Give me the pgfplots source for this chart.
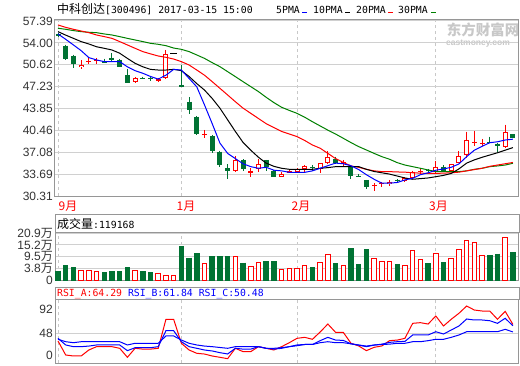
\documentclass[border=0pt]{standalone}
\usepackage{pgfplots}
\pgfplotsset{compat=1.18}
\usepackage{pgfplotstable}
\usepackage{fontspec}
\setmainfont{Liberation Sans}
\newfontfamily\cjk{Noto Sans CJK SC}
\newfontfamily\mono{DejaVu Sans Mono}

\definecolor{cg}{RGB}{0,114,51}
\definecolor{ma30}{RGB}{0,128,0}
\definecolor{gridc}{RGB}{208,208,208}
\definecolor{dashc}{RGB}{200,200,200}
\definecolor{framec}{RGB}{150,150,150}
\definecolor{labc}{RGB}{51,51,51}
\definecolor{wm}{RGB}{200,200,200}

% green (falling) candles: index, open, high, low, close
\pgfplotstableread{
i o h l c
0 55.30 55.50 54.90 55.00
1 53.57 53.73 51.36 51.51
2 52.03 52.18 50.17 50.79
6 51.12 51.56 50.94 50.96
7 51.72 52.39 51.25 51.36
8 51.36 51.51 50.32 50.32
9 49.00 49.96 47.75 47.75
11 48.56 48.78 48.37 48.40
12 48.50 48.78 48.16 48.34
16 47.50 50.60 47.10 47.13
17 44.91 45.58 43.00 43.62
18 42.59 42.69 39.75 39.91
20 39.60 39.75 36.92 37.33
21 37.17 37.33 34.75 35.11
22 34.60 35.21 32.94 34.23
24 35.89 35.99 34.23 34.44
27 35.89 35.89 34.23 34.75
28 34.18 34.34 33.30 33.30
33 34.80 35.11 34.23 34.62
36 35.99 36.40 35.27 35.47
38 34.85 34.85 32.94 33.46
39 33.36 33.72 33.20 33.20
40 32.79 32.79 31.40 31.76
44 32.86 32.92 32.27 32.70
48 34.32 34.50 34.00 34.16
50 34.85 35.06 34.23 34.23
56 38.72 39.50 38.55 38.56
57 38.36 38.46 37.18 38.10
59 39.90 39.90 39.24 39.24
}\candg

% red (rising) candles, hollow body
\pgfplotstableread{
i o h l c
3 50.22 51.30 49.96 50.58
10 48.00 48.67 47.85 48.52
14 48.62 52.90 48.47 52.23
23 34.23 36.50 34.00 35.89
26 34.44 35.99 34.08 35.21
29 33.20 34.08 33.20 33.70
31 34.03 34.60 33.90 34.44
32 34.54 35.11 33.82 34.96
34 34.54 35.37 33.93 35.37
35 35.37 37.28 35.27 36.30
43 32.17 32.79 31.92 32.53
45 32.70 33.20 32.50 33.10
46 33.05 34.23 32.89 34.08
49 34.08 35.78 33.82 34.85
51 34.23 35.27 34.08 35.27
52 35.47 37.28 35.47 36.50
53 36.66 40.27 36.14 38.98
58 37.90 41.36 37.75 40.17
}\candr

% red candles with a very small body
\pgfplotstableread{
i o h l c
4 50.98 51.61 50.69 51.14
5 51.18 51.67 50.79 51.34
13 48.10 48.57 47.90 48.40
19 39.70 40.53 39.24 39.86
25 33.93 34.60 33.20 34.23
30 33.90 34.40 33.80 34.20
37 35.38 35.89 34.75 35.55
41 31.80 32.27 31.14 31.96
42 32.10 32.50 31.76 32.26
47 34.00 34.44 33.72 34.16
54 38.55 40.37 38.10 38.71
55 38.30 39.13 38.08 38.46
}\candx

% flat candle
\pgfplotstableread{
i o h l c
15 52.32 52.47 52.32 52.47
}\candd

% moving averages
\pgfplotstableread{
i m5 m10 m20 m30
0 55.38 55.74 56.77 56.26
1 54.55 55.20 56.40 56.10
2 53.68 54.70 56.10 55.90
3 52.80 54.20 55.84 55.74
4 51.72 53.83 55.58 55.64
5 51.36 53.40 55.22 55.58
6 51.10 53.16 54.97 55.38
7 51.10 52.90 54.70 55.22
8 51.10 52.40 54.20 54.97
9 50.30 51.60 53.68 54.70
10 49.70 50.84 53.16 54.45
11 49.30 50.30 52.65 54.20
12 48.80 49.90 52.30 53.93
13 48.40 49.80 51.97 53.78
14 49.00 49.80 51.77 53.57
15 49.90 49.90 51.50 53.20
16 49.80 49.70 51.10 53.00
17 48.50 48.80 50.58 52.65
18 47.20 47.70 49.80 52.13
19 44.40 46.70 49.00 51.60
20 41.50 45.40 48.00 50.94
21 38.50 43.90 46.97 50.32
22 36.90 42.10 45.94 49.55
23 36.10 40.30 44.90 48.78
24 35.30 38.60 43.90 48.00
25 34.85 37.40 43.10 47.23
26 34.60 36.30 42.30 46.46
27 34.75 35.40 41.50 45.58
28 34.30 34.90 40.90 44.76
29 34.20 34.60 40.30 44.04
30 33.97 34.44 39.90 43.55
31 33.97 34.44 39.50 43.10
32 33.97 34.44 38.90 42.50
33 34.20 34.44 38.20 41.80
34 34.60 34.60 37.70 41.15
35 35.00 34.70 36.90 40.50
36 35.40 34.85 36.10 39.90
37 35.30 34.85 35.50 39.24
38 35.00 34.85 34.96 38.57
39 34.40 34.85 34.75 37.95
40 33.60 34.44 34.44 37.43
41 32.90 34.10 34.20 36.90
42 32.30 33.90 34.08 36.40
43 32.30 33.70 34.08 36.00
44 32.40 33.40 34.03 35.47
45 32.80 33.10 34.00 35.10
46 33.05 32.90 33.90 34.85
47 33.60 33.00 33.85 34.60
48 33.90 33.10 33.80 34.34
49 34.30 33.30 33.80 34.08
50 34.50 33.50 33.85 34.08
51 34.75 33.80 33.90 34.08
52 35.27 34.50 34.00 34.08
53 36.40 35.40 34.20 34.20
54 37.40 35.90 34.40 34.44
55 38.00 36.30 34.60 34.60
56 38.55 36.65 34.90 34.85
57 38.70 37.00 35.10 34.96
58 38.97 37.40 35.30 35.10
59 39.10 37.80 35.50 35.37
}\ma

% volume (10k shares)
\pgfplotstableread{
i v
0 2.9
1 5.6
2 4.65
6 2.25
7 2.7
8 2.7
9 4.65
11 2.7
12 2.25
16 14.8
17 9.1
18 11.3
20 9.9
21 9.9
22 9.9
24 6.7
27 7.5
28 7.5
33 4.65
36 6.55
38 13.7
39 6.1
40 13.25
44 6.1
48 6.55
50 7.0
56 10.4
57 11.0
59 11.92
}\volg

\pgfplotstableread{
i v
3 3.2
4 3.2
5 2.7
10 3.2
13 1.8
14 0.7
15 0.7
19 6.55
23 9.9
25 5.1
26 7.0
29 3.55
30 4.0
31 4.0
32 5.45
34 6.9
35 10.9
37 5.6
41 8.8
42 7.4
43 7.4
45 5.45
46 12.6
47 8.35
49 11.2
51 8.8
52 13.1
53 17.4
54 16.45
55 10.2
58 18.85
}\volr

% RSI
\pgfplotstableread{
i a b c
0 33.9 38.8 37.0
1 8.2 26.6 32.6
2 6.4 23.5 30.8
3 6.4 23.5 32.6
4 17.4 24.6 32.6
5 23.5 26.6 32.6
6 23.5 26.6 32.6
7 23.5 26.6 32.6
8 20.5 26.6 32.6
9 4.0 16.2 26.6
10 20.5 21.6 29.7
11 19.0 21.6 29.7
12 19.0 21.6 29.7
13 20.5 23.5 29.7
14 73.7 52.8 43.1
15 73.7 52.8 43.1
16 29.7 32.6 35.7
17 17.4 23.5 29.7
18 11.3 20.5 26.6
19 10.0 17.4 24.6
20 6.4 15.6 23.5
21 4.0 12.5 22.0
22 1.5 10.1 20.5
23 20.5 20.5 23.5
24 14.4 19.0 23.5
25 14.4 19.0 23.5
26 23.5 23.5 23.5
27 20.5 20.5 20.5
28 17.4 19.0 20.5
29 23.5 20.5 21.6
30 30.8 23.5 23.5
31 38.8 25.2 26.6
32 40.6 27.5 27.5
33 37.0 27.5 27.5
34 50.4 34.5 30.8
35 65.0 40.6 32.6
36 49.8 35.6 30.8
37 49.8 35.0 30.8
38 29.7 28.7 28.7
39 24.8 26.3 26.6
40 16.2 23.5 24.6
41 22.3 26.3 26.6
42 24.8 28.1 27.5
43 34.5 31.4 28.1
44 35.6 32.6 29.7
45 38.8 33.2 29.7
46 66.3 44.9 32.6
47 67.5 44.9 32.6
48 65.0 44.9 34.5
49 79.7 50.9 37.0
50 61.4 46.7 37.0
51 73.7 54.0 40.6
52 84.7 61.4 44.9
53 98.0 74.2 50.9
54 90.7 72.4 50.9
55 88.9 72.4 50.9
56 88.9 71.1 50.9
57 73.7 66.3 50.9
58 88.3 75.5 55.3
59 64.3 61.8 50.5
}\rsi

\pgfplotsset{
  panel/.style={scale only axis, width=464pt, anchor=south west,
    xmin=-0.39, xmax=59.79,
    axis line style={draw=framec, line width=1pt},
    xtick={0,16,31,49}, xticklabels={},
    xmajorgrids, ymajorgrids,
    major x grid style={draw=dashc, dashed, line width=1pt},
    major y grid style={draw=gridc, line width=1pt},
    tick style={draw=none}, major tick length=0pt,
    yticklabel style={font=\fontsize{12pt}{12pt}\selectfont, text=labc, inner sep=2pt},
  },
  eb/.style 2 args={draw=none, no markers, forget plot, error bars/.cd, y dir=minus, y explicit, error mark=none, error bar style={line width=#2, draw=#1, solid}},
  ebin/.style={draw=none, no markers, forget plot, error bars/.cd, y dir=minus, y explicit, error mark=none, error bar style={line width=#1, draw=white, solid, shorten <=1pt, shorten >=1pt}},
}

\begin{document}
\begin{tikzpicture}
\useasboundingbox (0pt,0pt) rectangle (520pt,365pt);
\fill[white] (0pt,0pt) rectangle (520pt,365pt);

% watermark
\node[text=wm, inner sep=0, font=\cjk\bfseries\fontsize{14.5pt}{14.5pt}\selectfont] at (483pt,335pt) {东方财富网};
\node[text=wm, inner sep=0, font=\bfseries\fontsize{8.5pt}{8.5pt}\selectfont] at (478pt,321.5pt) {eastmoney.com};

% title and legend
\node[anchor=base west, inner sep=0] at (57pt,351pt) {{\cjk\fontsize{12pt}{12pt}\selectfont 中科创达}{\mono\fontsize{9.8pt}{10pt}\selectfont[300496] 2017-03-15 15:00}};
\node[anchor=base west, inner sep=0, font=\mono\fontsize{9.8pt}{10pt}\selectfont] at (276pt,351pt) {5PMA};
\fill[blue] (301.7pt,351.7pt) rectangle (306.7pt,353.3pt);
\node[anchor=base west, inner sep=0, font=\mono\fontsize{9.8pt}{10pt}\selectfont] at (313pt,351pt) {10PMA};
\fill[black] (345pt,351.7pt) rectangle (350pt,353.3pt);
\node[anchor=base west, inner sep=0, font=\mono\fontsize{9.8pt}{10pt}\selectfont] at (356pt,351pt) {20PMA};
\fill[red] (388pt,351.7pt) rectangle (393pt,353.3pt);
\node[anchor=base west, inner sep=0, font=\mono\fontsize{9.8pt}{10pt}\selectfont] at (398pt,351pt) {30PMA};
\fill[ma30] (431pt,351.7pt) rectangle (436pt,353.3pt);

% price panel
\begin{axis}[panel, at={(55pt,169pt)}, height=176pt, ymin=30.31, ymax=57.54,
  ytick={30.31,33.69,37.08,40.46,43.85,47.23,50.62,54.00,57.39},
  yticklabels={30.31,33.69,37.08,40.46,43.85,47.23,50.62,54.00,57.39}]
\addplot[eb={cg}{1pt}] table[x=i,y=h,y error minus expr=\thisrow{h}-\thisrow{l}] {\candg};
\addplot[eb={cg}{5pt}] table[x=i,y=o,y error minus expr=\thisrow{o}-\thisrow{c}] {\candg};
\addplot[eb={red}{1pt}] table[x=i,y=h,y error minus expr=\thisrow{h}-\thisrow{l}] {\candr};
\addplot[eb={red}{5pt}] table[x=i,y=c,y error minus expr=\thisrow{c}-\thisrow{o}] {\candr};
\addplot[ebin=3pt] table[x=i,y=c,y error minus expr=\thisrow{c}-\thisrow{o}] {\candr};
\addplot[eb={red}{1pt}] table[x=i,y=h,y error minus expr=\thisrow{h}-\thisrow{l}] {\candx};
\addplot[eb={red}{5pt}] table[x=i,y=c,y error minus expr=\thisrow{c}-\thisrow{o}] {\candx};
\addplot[eb={black}{7pt}] table[x=i,y=c,y error minus expr=\thisrow{c}-\thisrow{o}] {\candd};
\addplot[ma30, line width=1pt, mark=none] table[x=i,y=m30] {\ma};
\addplot[red, line width=1pt, mark=none] table[x=i,y=m20] {\ma};
\addplot[black, line width=1pt, mark=none] table[x=i,y=m10] {\ma};
\addplot[blue, line width=1pt, mark=none] table[x=i,y=m5] {\ma};
\end{axis}

% month labels
\node[anchor=base, inner sep=0, text=red, font=\cjk\fontsize{12pt}{12pt}\selectfont] at (68pt,154.5pt) {9月};
\node[anchor=base, inner sep=0, text=red, font=\cjk\fontsize{12pt}{12pt}\selectfont] at (186pt,154.5pt) {1月};
\node[anchor=base, inner sep=0, text=red, font=\cjk\fontsize{12pt}{12pt}\selectfont] at (301pt,154.5pt) {2月};
\node[anchor=base, inner sep=0, text=red, font=\cjk\fontsize{12pt}{12pt}\selectfont] at (438.5pt,154.5pt) {3月};

% volume panel
\draw[framec, line width=1pt] (55pt,133pt) rectangle (519pt,150.3pt);
\node[anchor=base west, inner sep=0] at (57pt,137pt) {{\cjk\fontsize{12pt}{12pt}\selectfont 成交量}{\mono\fontsize{9.8pt}{10pt}\selectfont:119168}};
\begin{axis}[panel, at={(55pt,84.3pt)}, height=48.7pt, ymin=-1.9, ymax=21.4,
  ytick={-1.9,3.8,9.5,15.2,20.9},
  yticklabels={0,3.8{\cjk 万},9.5{\cjk 万},15.2{\cjk 万},20.9{\cjk 万}}]
\addplot[eb={cg}{5.5pt}] table[x=i,y=v,y error minus expr=\thisrow{v}+1.9] {\volg};
\addplot[eb={red}{5.5pt}] table[x=i,y=v,y error minus expr=\thisrow{v}+1.9] {\volr};
\addplot[ebin=3.5pt] table[x=i,y=v,y error minus expr=\thisrow{v}+1.9] {\volr};
\end{axis}

% RSI panel
\draw[framec, line width=1pt] (55pt,66pt) rectangle (519pt,77.7pt);
\node[anchor=base west, inner sep=0, font=\mono\fontsize{9.8pt}{10pt}\selectfont] at (57pt,68.3pt) {\textcolor{red}{RSI\_A:64.29} \textcolor{blue}{RSI\_B:61.84} \textcolor{blue}{RSI\_C:50.48}};
\begin{axis}[panel, at={(55pt,1.7pt)}, height=64.3pt, ymin=-7, ymax=110.9,
  ytick={48}, yticklabels={48},
  extra y ticks={8,92}, extra y tick labels={0,92}, extra y tick style={grid=none}]
\addplot[red, line width=1pt, mark=none] table[x=i,y=a] {\rsi};
\addplot[blue, line width=1pt, mark=none] table[x=i,y=b] {\rsi};
\addplot[blue, line width=1pt, mark=none] table[x=i,y=c] {\rsi};
\end{axis}
\end{tikzpicture}
\end{document}
